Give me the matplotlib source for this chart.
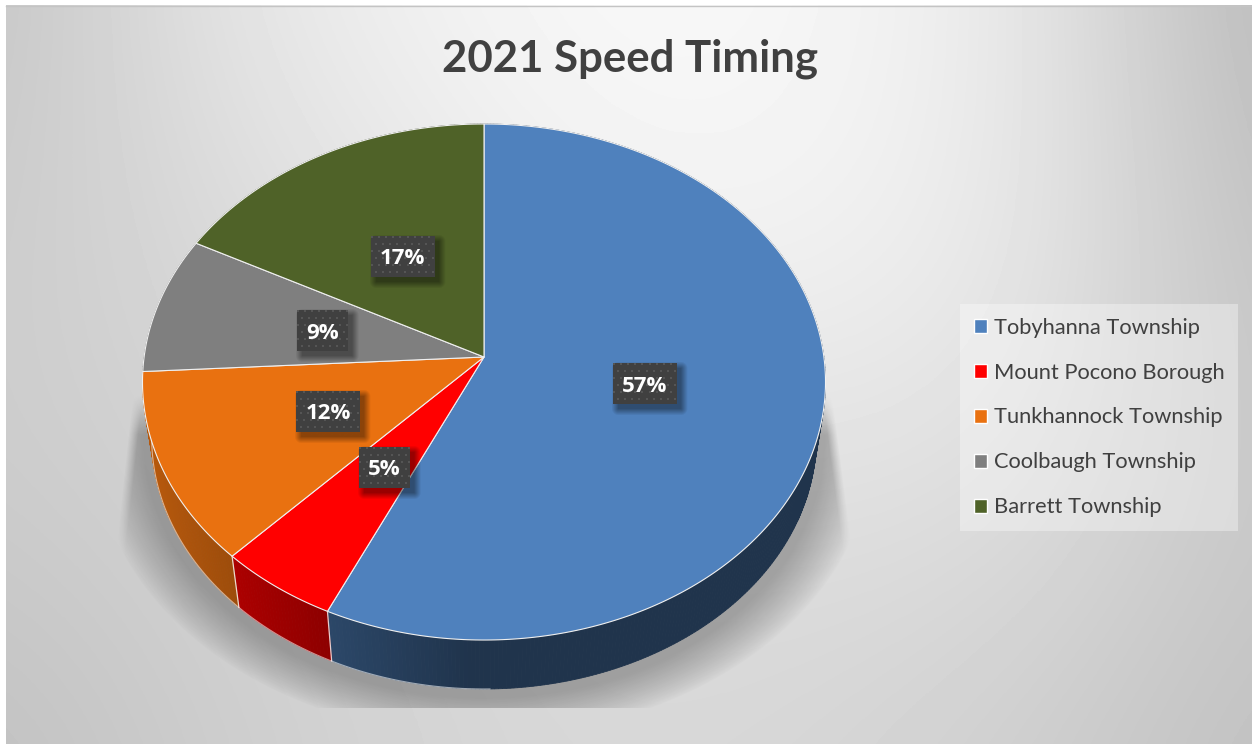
import numpy as np
import matplotlib
matplotlib.use("Agg")
import matplotlib.pyplot as plt
from matplotlib.patches import Polygon, Patch, Rectangle

title = "2021 Speed Timing"
categories = ["Tobyhanna Township", "Mount Pocono Borough", "Tunkhannock Township",
              "Coolbaugh Township", "Barrett Township"]
shares = [56.9, 5.2, 12.0, 8.6, 17.3]
colors = ["#4F81BD", "#FF0000", "#E97110", "#7F7F7F", "#4F6228"]

# projection of the pie disc (image pixels)
CX, CY, AX_U, AX_V, PERSP = 484.0, 357.0, 339.9, 255.6, 0.0969
S_LOW, CY_LOW = 0.973, 413.6
LABEL_R = [0.48, 0.50, 0.495, 0.492, 0.48]

W, H = 1252, 744
fig = plt.figure(figsize=(W / 100, H / 100), dpi=100, facecolor="white")
ax = fig.add_axes([0, 0, 1, 1])
plt.rcParams["font.family"] = ["Lato", "DejaVu Sans"]


def fix_view():
    ax.set_xlim(0, W)
    ax.set_ylim(H, 0)


fix_view()
ax.axis("off")


def top(theta, r=1.0):
    u, v = r * np.sin(theta), r * np.cos(theta)
    d = 1 + PERSP * v
    return CX + AX_U * u / d, CY - AX_V * v / d


def low(theta):
    x, y = top(theta)
    return CX + S_LOW * (x - CX), CY_LOW + S_LOW * (y - CY)


# background gradient from a coarse grid of greys (grid nodes span the chart area)
bg = np.array([
    [0xc4, 0xe4, 0xf2, 0xfa, 0xf6, 0xe6, 0xb8],
    [0xcc, 0xd8, 0xe6, 0xf2, 0xf2, 0xe6, 0xc2],
    [0xcc, 0xd2, 0xd8, 0xdc, 0xe0, 0xdc, 0xc8],
    [0xc0, 0xcc, 0xd4, 0xd8, 0xd4, 0xcc, 0xc0],
]) / 255.0
nrow, ncol = bg.shape
hx = (W - 6) / (ncol - 1) / 2
hy = (H - 5) / (nrow - 1) / 2
im = ax.imshow(bg, cmap="gray", vmin=0, vmax=1,
               extent=(6 - hx, W + hx, H + hy, 5 - hy), aspect="auto",
               interpolation="bicubic", zorder=0)
im.set_clip_path(Rectangle((6, 5), W - 6, H - 5, transform=ax.transData))
ax.plot([6, W], [5.5, 5.5], color="#c4c4c4", lw=1, zorder=1)
fix_view()

# soft shadow below the pie
yy, xx = np.mgrid[0:H, 0:W] + 0.5
rr = np.hypot((xx - CX) / 340.0, (yy - 440.0) / 258.0)
sh = 0.27 * np.clip(1 - (rr - 1) / 0.15, 0, 1) ** 0.8
xl = 130 - (yy - 420) * 12 / 110
xr = 833 + (yy - 400) * 17 / 130
sh *= np.clip((xx - xl) / 10, 0, 1) * np.clip((xr - xx) / 10, 0, 1)
sh *= np.clip((yy - 395) / 40, 0, 1)
sh[yy > 708] = 0
rgba = np.zeros((H, W, 4))
rgba[..., 3] = sh
ax.imshow(rgba, extent=(0, W, H, 0), aspect="auto", zorder=2)
fix_view()

fracs = np.array(shares, dtype=float) / sum(shares)
edges = np.concatenate([[0], np.cumsum(fracs)]) * 2 * np.pi

# pie sides, shaded along x
for i, col in enumerate(colors):
    base = np.array(matplotlib.colors.to_rgb(col))
    th = np.linspace(edges[i], edges[i + 1], max(int(shares[i] * 6), 8))
    for a, b in zip(th[:-1], th[1:]):
        xa, ya = top(a)
        xb, yb = top(b)
        xc, yc = low(b)
        xd, yd = low(a)
        f = np.interp((xa + xb) / 2, [150, 330, 470], [0.78, 0.55, 0.40])
        c = base * f
        ax.add_patch(Polygon([(xa, ya), (xb, yb), (xc, yc), (xd, yd)], closed=True,
                             facecolor=c, edgecolor=c, lw=0.6, zorder=3))

# side separators and faint lower rim on the front left
for e in edges[1:3]:
    ax.plot(*zip(top(e), low(e)), color="white", lw=0.9, alpha=0.8, zorder=4)
th = np.linspace(edges[1] - 0.45, edges[3], 80)
ax.plot(*low(th), color="white", lw=0.8, alpha=0.55, zorder=4)

# pie top
for i, col in enumerate(colors):
    th = np.linspace(edges[i], edges[i + 1], max(int(shares[i] * 6), 8))
    x, y = top(th)
    pts = np.column_stack([np.r_[CX, x], np.r_[CY, y]])
    ax.add_patch(Polygon(pts, closed=True, facecolor=col, edgecolor="#f0f0f0",
                         lw=0.8, joinstyle="round", zorder=5))

# data labels: dark dotted boxes with a soft shadow
fig.canvas.draw()
renderer = fig.canvas.get_renderer()
for i, s in enumerate(shares):
    mid = (edges[i] + edges[i + 1]) / 2
    x, y = top(mid, LABEL_R[i])
    t = ax.text(x, y, f"{round(s)}%", color="white", fontsize=16, fontweight="bold",
                family=["Open Sans", "DejaVu Sans"],
                ha="center", va="center_baseline", zorder=9)
    bb = t.get_window_extent(renderer)
    hw = bb.width / 2 + 9
    hh = 20.5
    x0, x1, y0, y1 = x - hw, x + hw, y - hh, y + hh
    # shadow
    m = 8
    gy, gx = np.mgrid[y0 - m: y1 + m + 10, x0 - m: x1 + m + 10]
    dx = np.maximum(np.maximum((x0 + 5) - gx, gx - (x1 + 5)), 0)
    dy = np.maximum(np.maximum((y0 + 5) - gy, gy - (y1 + 5)), 0)
    a = 0.4 * np.clip(1 - np.hypot(dx, dy) / 7, 0, 1)
    img = np.zeros(a.shape + (4,))
    img[..., 3] = a
    ax.imshow(img, extent=(gx.min(), gx.max(), gy.max(), gy.min()), aspect="auto", zorder=7)
    # dotted box
    by, bx = np.mgrid[0:int(round(y1 - y0)), 0:int(round(x1 - x0))]
    tile = np.full(bx.shape, 0x40 / 255.0)
    dots = ((bx % 7 < 2) & (by % 14 < 2)) | (((bx + 3) % 7 < 2) & ((by + 7) % 14 < 2))
    tile[dots] = 0x55 / 255.0
    ax.imshow(tile, cmap="gray", vmin=0, vmax=1, extent=(x0, x1, y1, y0), aspect="auto",
              interpolation="nearest", zorder=8)
fix_view()

# title
ax.text(630.5, 59, title, color="#404040", fontsize=31.5, fontweight="bold",
        family=["Lato", "DejaVu Sans"], ha="center", va="center", zorder=9)

# legend
handles = [Patch(facecolor=c, edgecolor="white", lw=1.0) for c in colors]
leg = ax.legend(handles, categories, loc="upper left",
                bbox_to_anchor=(960 / W, 1 - 304 / H), bbox_transform=fig.transFigure,
                fontsize=15.75, labelcolor="#404040", frameon=True, fancybox=False,
                facecolor="white", edgecolor="none", framealpha=0.35,
                handlelength=0.6, handleheight=0.6, handletextpad=0.34,
                labelspacing=1.14, borderpad=0.62, borderaxespad=0)
leg.set_zorder(9)

fig.savefig("out.png", dpi=100, facecolor="white")
